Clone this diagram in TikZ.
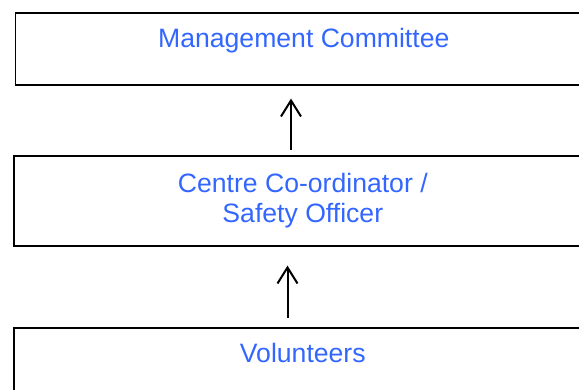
\documentclass[tikz,border=0pt]{standalone}
\usepackage{fontspec}
\setmainfont{Liberation Sans}
\usetikzlibrary{arrows.meta}
\definecolor{labelblue}{RGB}{51,102,255}

\begin{document}
\begin{tikzpicture}[x=1pt, y=1pt, >={Straight Barb[length=16pt, width=20pt]},
	box/.style={draw, line width=1.6pt, inner sep=0pt, anchor=north west, align=center,
		text=labelblue, font=\fontsize{26.6}{30}\selectfont}]
	\clip (0, 0) rectangle (579, 390);

	\node[box, minimum width=577, text height=34.5pt, text depth=37pt] (mgmt) at (14.5, 377.5) {Management Committee};
	\node[box, minimum width=578, minimum height=90] (coord) at (13, 235) {Centre Co-ordinator /\\ Safety Officer};
	\node[box, minimum width=578, text height=35pt, text depth=45pt] (vol) at (13, 63) {Volunteers};

	\draw[->, line width=2pt, shorten <=5pt, shorten >=13pt] (coord.north -| 291, 0) -- (mgmt.south -| 291, 0);
	\draw[->, line width=2pt, shorten <=9pt, shorten >=19pt] (vol.north -| 287.5, 0) -- (coord.south -| 287.5, 0);
\end{tikzpicture}
\end{document}
